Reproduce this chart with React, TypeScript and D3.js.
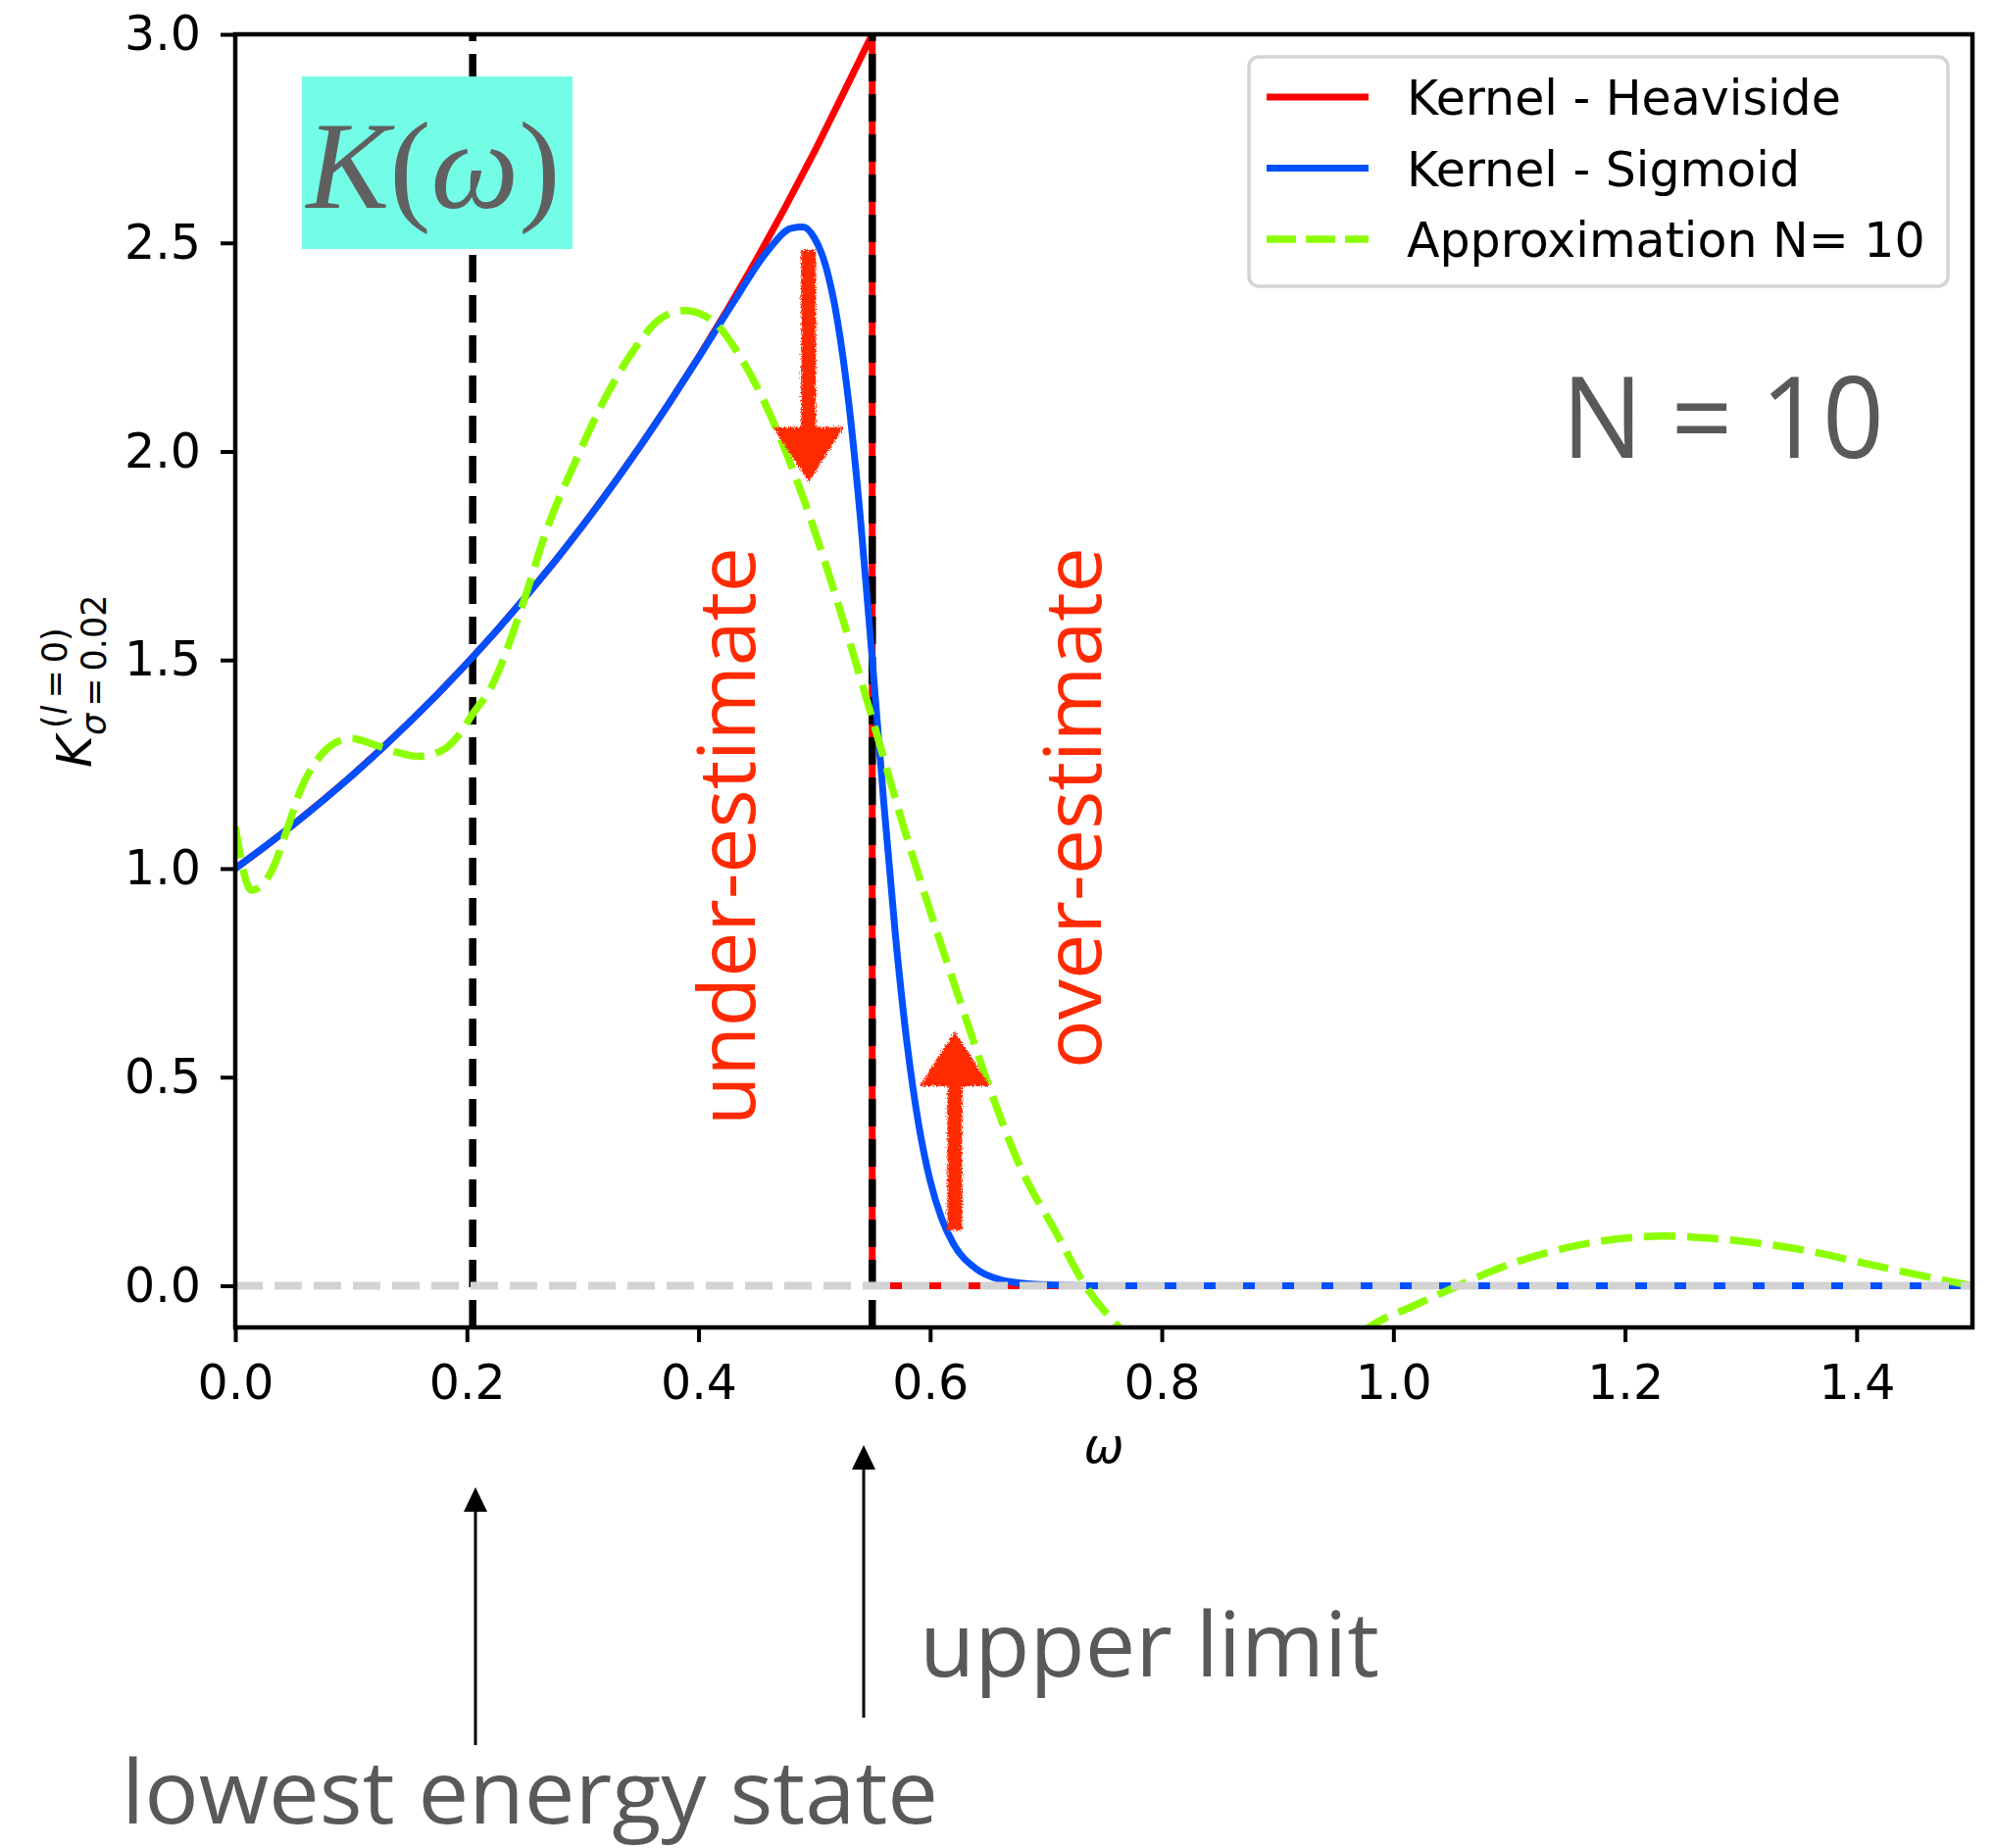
import React, { useEffect, useRef } from 'react';
import * as d3 from 'd3';

// Kernel - Heaviside (red)
const heavisideOmega = [0, 0.025, 0.05, 0.075, 0.1, 0.125, 0.15, 0.175, 0.2, 0.225, 0.25, 0.275, 0.3, 0.325, 0.35, 0.375, 0.4, 0.425, 0.45, 0.475, 0.5, 0.525, 0.55, 0.55, 1.5];
const heavisideK = [1.0, 1.051, 1.105, 1.162, 1.221, 1.284, 1.35, 1.419, 1.492, 1.568, 1.649, 1.733, 1.822, 1.916, 2.014, 2.117, 2.226, 2.34, 2.46, 2.586, 2.718, 2.858, 3.0, 0, 0];

// Kernel - Sigmoid (blue)
const sigmoidOmega = [0, 0.05, 0.1, 0.15, 0.2, 0.25, 0.3, 0.35, 0.4, 0.43, 0.46, 0.48, 0.49, 0.5, 0.51, 0.52, 0.53, 0.54, 0.55, 0.56, 0.57, 0.58, 0.59, 0.6, 0.61, 0.62, 0.64, 0.66, 0.68, 0.7, 0.75, 1.5];
const sigmoidK = [1.0, 1.105, 1.221, 1.35, 1.492, 1.649, 1.822, 2.014, 2.225, 2.357, 2.482, 2.535, 2.538, 2.512, 2.443, 2.313, 2.11, 1.833, 1.502, 1.157, 0.841, 0.582, 0.388, 0.252, 0.161, 0.101, 0.04, 0.015, 0.006, 0.002, 0, 0];

// Approximation N = 10 (green dashed)
const approxOmega = [0, 0.014, 0.032, 0.045, 0.056, 0.072, 0.083, 0.1, 0.121, 0.142, 0.158, 0.179, 0.193, 0.205, 0.22, 0.248, 0.269, 0.294, 0.319, 0.344, 0.367, 0.388, 0.412, 0.434, 0.454, 0.474, 0.491, 0.511, 0.531, 0.55, 0.578, 0.604, 0.629, 0.652, 0.677, 0.708, 0.734, 0.768, 0.82, 0.87, 0.93, 0.98, 1.016, 1.056, 1.095, 1.135, 1.175, 1.234, 1.293, 1.353, 1.413, 1.46, 1.5];
const approxK = [1.1, 0.948, 0.998, 1.096, 1.186, 1.265, 1.296, 1.312, 1.296, 1.277, 1.269, 1.284, 1.32, 1.371, 1.43, 1.632, 1.813, 1.978, 2.126, 2.243, 2.318, 2.338, 2.314, 2.236, 2.135, 2.009, 1.884, 1.719, 1.539, 1.36, 1.092, 0.864, 0.656, 0.469, 0.29, 0.131, 0.0, -0.114, -0.24, -0.29, -0.24, -0.098, -0.05, 0.0, 0.046, 0.081, 0.105, 0.119, 0.109, 0.086, 0.05, 0.022, 0.0];

// vertical markers: lowest energy state, upper limit
const markerOmega = [0.205, 0.55];

const xTicks = [0, 0.2, 0.4, 0.6, 0.8, 1.0, 1.2, 1.4];
const yTicks = [0, 0.5, 1.0, 1.5, 2.0, 2.5, 3.0];

const legendLabels = ['Kernel - Heaviside', 'Kernel - Sigmoid', 'Approximation N= 10'];

// hand-drawn red arrows: omega, tail, head base, tip
const redArrows = [
  { omega: 0.495, tail: 2.483, base: 2.058, tip: 1.926 },
  { omega: 0.6213, tail: 0.133, base: 0.478, tip: 0.61 },
];

const RED = '#ff0000';
const BLUE = '#0050ff';
const GREEN = '#8cff00';
const ANNOT = '#ff2a00';
const GREY_TEXT = '#595959';

function draw(svgEl: SVGSVGElement) {
  const width = 2034;
  const height = 1885;
  const left = 240, right = 2012, top = 35, bottom = 1354;

  const svg = d3.select(svgEl);
  svg.selectAll('*').remove();
  svg.attr('width', width).attr('height', height);

  svg.append('rect').attr('width', width).attr('height', height).attr('fill', '#fff');

  const x = d3.scaleLinear().domain([0, 1.5]).range([left, right]);
  const y = d3.scaleLinear().domain([-0.1, 3.0]).range([bottom, top]);

  const defs = svg.append('defs');
  defs.append('clipPath').attr('id', 'plotclip')
    .append('rect')
    .attr('x', left).attr('y', top)
    .attr('width', right - left).attr('height', bottom - top);

  const rough = defs.append('filter').attr('id', 'rough')
    .attr('x', '-20%').attr('y', '-20%').attr('width', '140%').attr('height', '140%');
  rough.append('feTurbulence').attr('type', 'fractalNoise')
    .attr('baseFrequency', 0.7).attr('numOctaves', 2).attr('result', 'noise');
  rough.append('feDisplacementMap').attr('in', 'SourceGraphic').attr('in2', 'noise')
    .attr('scale', 7).attr('xChannelSelector', 'R').attr('yChannelSelector', 'G');

  const plot = svg.append('g').attr('clip-path', 'url(#plotclip)');

  const zip = (xs: number[], ys: number[]) => xs.map((v, i) => [v, ys[i]] as [number, number]);

  const linear = d3.line<[number, number]>().x(d => x(d[0])).y(d => y(d[1]));
  const smooth = d3.line<[number, number]>().x(d => x(d[0])).y(d => y(d[1])).curve(d3.curveMonotoneX);

  // Heaviside kernel
  plot.append('path')
    .attr('d', linear(zip(heavisideOmega, heavisideK)))
    .attr('fill', 'none').attr('stroke', RED).attr('stroke-width', 7);

  // black dashed markers (drawn from the bottom up like axvline)
  plot.selectAll('line.marker').data(markerOmega).join('line')
    .attr('class', 'marker')
    .attr('x1', d => x(d)).attr('x2', d => x(d))
    .attr('y1', bottom).attr('y2', top)
    .attr('stroke', '#000').attr('stroke-width', 7.5)
    .attr('stroke-dasharray', '28,13');

  // Sigmoid kernel
  plot.append('path')
    .attr('d', smooth(zip(sigmoidOmega, sigmoidK)))
    .attr('fill', 'none').attr('stroke', BLUE).attr('stroke-width', 7);

  // approximation
  plot.append('path')
    .attr('d', smooth(zip(approxOmega, approxK)))
    .attr('fill', 'none').attr('stroke', GREEN).attr('stroke-width', 7.5)
    .attr('stroke-dasharray', '32,12');

  // zero reference line
  plot.append('line')
    .attr('x1', x(0)).attr('x2', x(1.5))
    .attr('y1', y(0)).attr('y2', y(0))
    .attr('stroke', '#d3d3d3').attr('stroke-width', 8)
    .attr('stroke-dasharray', '28,12');

  // hand-drawn red arrows
  const arrows = svg.append('g').attr('filter', 'url(#rough)').attr('fill', ANNOT);
  redArrows.forEach(a => {
    const cx = x(a.omega);
    const sw = 7.5, hw = 36;
    const yt = y(a.tail), yb = y(a.base), yp = y(a.tip);
    arrows.append('path')
      .attr('d', `M${cx - sw},${yt} L${cx + sw},${yt} L${cx + sw},${yb} L${cx + hw},${yb} L${cx},${yp} L${cx - hw},${yb} L${cx - sw},${yb} Z`);
  });

  // axes
  const tickFont = '"DejaVu Sans", sans-serif';
  const xAxis = svg.append('g')
    .attr('transform', `translate(0,${bottom})`)
    .call(d3.axisBottom(x).tickValues(xTicks).tickSize(15).tickPadding(23).tickFormat(d3.format('.1f')));
  const yAxis = svg.append('g')
    .attr('transform', `translate(${left},0)`)
    .call(d3.axisLeft(y).tickValues(yTicks).tickSize(15).tickPadding(20).tickFormat(d3.format('.1f')));
  [xAxis, yAxis].forEach(g => {
    g.select('.domain').remove();
    g.selectAll('line').attr('stroke', '#000').attr('stroke-width', 4);
    g.selectAll('text').attr('font-family', tickFont).attr('font-size', 49).attr('fill', '#000');
  });

  svg.append('rect')
    .attr('x', left).attr('y', top)
    .attr('width', right - left).attr('height', bottom - top)
    .attr('fill', 'none').attr('stroke', '#000').attr('stroke-width', 4.5);

  // axis labels
  svg.append('text')
    .attr('x', (left + right) / 2).attr('y', 1492)
    .attr('text-anchor', 'middle')
    .attr('font-family', tickFont).attr('font-style', 'italic').attr('font-size', 49)
    .text('ω');

  const ylab = svg.append('g').attr('transform', 'translate(93,783) rotate(-90)')
    .attr('font-family', tickFont).attr('fill', '#000');
  ylab.append('text').attr('x', 0).attr('y', 0).attr('font-size', 50).attr('font-style', 'italic').text('K');
  const sup = ylab.append('text').attr('x', 40).attr('y', -25).attr('font-size', 35);
  sup.append('tspan').text('(');
  sup.append('tspan').attr('font-style', 'italic').text('l');
  sup.append('tspan').text('\u2009=\u20090)');
  const sub = ylab.append('text').attr('x', 33).attr('y', 15).attr('font-size', 35);
  sub.append('tspan').attr('font-style', 'italic').text('σ');
  sub.append('tspan').text('\u2009=\u20090.02');

  // legend
  const lg = svg.append('g');
  lg.append('rect')
    .attr('x', 1274).attr('y', 58).attr('width', 713).attr('height', 234)
    .attr('rx', 10).attr('fill', '#fff').attr('stroke', '#d4d4d4').attr('stroke-width', 3.5);
  const legendStyles = [
    { color: RED, dash: null, w: 7 },
    { color: BLUE, dash: null, w: 7 },
    { color: GREEN, dash: '30,10', w: 7.5 },
  ];
  legendLabels.forEach((label, i) => {
    const ry = 99 + i * 72.5;
    const s = legendStyles[i];
    lg.append('line')
      .attr('x1', 1292).attr('x2', 1396).attr('y1', ry).attr('y2', ry)
      .attr('stroke', s.color).attr('stroke-width', s.w)
      .attr('stroke-dasharray', s.dash);
    lg.append('text')
      .attr('x', 1435).attr('y', ry + 18)
      .attr('font-family', tickFont).attr('font-size', 49).attr('fill', '#000')
      .text(label);
  });

  // K(omega) box
  svg.append('rect')
    .attr('x', 308).attr('y', 78).attr('width', 276).attr('height', 176)
    .attr('fill', '#74fde6');
  const kw = svg.append('text')
    .attr('x', 442).attr('y', 212).attr('text-anchor', 'middle')
    .attr('font-family', '"Liberation Serif", serif').attr('font-size', 127).attr('fill', '#606060');
  kw.append('tspan').attr('font-style', 'italic').text('K');
  kw.append('tspan').text('(');
  kw.append('tspan').attr('font-style', 'italic').text('ω');
  kw.append('tspan').text(')');

  // annotations
  const annFont = '"Open Sans", sans-serif';
  svg.append('text')
    .attr('x', 1593).attr('y', 467)
    .attr('font-family', annFont).attr('font-size', 115).attr('fill', GREY_TEXT)
    .attr('textLength', 329).attr('lengthAdjust', 'spacingAndGlyphs')
    .text('N = 10');

  svg.append('text')
    .attr('transform', 'translate(770,1148) rotate(-90)')
    .attr('font-family', annFont).attr('font-size', 80).attr('fill', ANNOT)
    .attr('textLength', 590).attr('lengthAdjust', 'spacingAndGlyphs')
    .text('under-estimate');

  svg.append('text')
    .attr('transform', 'translate(1123,1090) rotate(-90)')
    .attr('font-family', annFont).attr('font-size', 80).attr('fill', ANNOT)
    .attr('textLength', 532).attr('lengthAdjust', 'spacingAndGlyphs')
    .text('over-estimate');

  svg.append('text')
    .attr('x', 938).attr('y', 1710)
    .attr('font-family', annFont).attr('font-size', 92).attr('fill', GREY_TEXT)
    .attr('textLength', 469).attr('lengthAdjust', 'spacingAndGlyphs')
    .text('upper limit');

  svg.append('text')
    .attr('x', 124).attr('y', 1860)
    .attr('font-family', annFont).attr('font-size', 90).attr('fill', GREY_TEXT)
    .attr('textLength', 833).attr('lengthAdjust', 'spacingAndGlyphs')
    .text('lowest energy state');

  // black arrows below the axis
  const blackArrows = [
    { ax: 485, from: 1780, tip: 1517 },
    { ax: 881, from: 1752, tip: 1474 },
  ];
  blackArrows.forEach(a => {
    svg.append('line')
      .attr('x1', a.ax).attr('x2', a.ax).attr('y1', a.from).attr('y2', a.tip + 20)
      .attr('stroke', '#000').attr('stroke-width', 3);
    svg.append('path')
      .attr('d', `M${a.ax},${a.tip} L${a.ax + 12},${a.tip + 25} L${a.ax - 12},${a.tip + 25} Z`)
      .attr('fill', '#000');
  });
}

const App = () => {
  const ref = useRef<SVGSVGElement>(null);
  useEffect(() => {
    if (ref.current) draw(ref.current);
  }, []);
  return (
    <svg ref={ref} width={2034} height={1885}
      style={{ position: 'absolute', left: 0, top: 0, display: 'block' }} />
  );
};

export default App;
